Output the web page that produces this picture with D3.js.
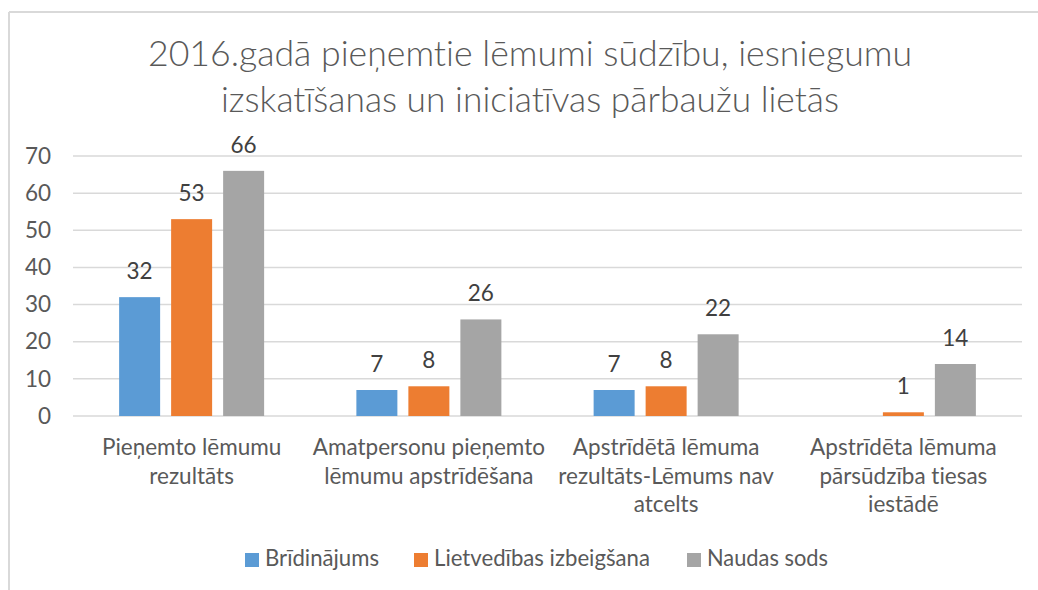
<!DOCTYPE html>
<html>
<head>
<meta charset="utf-8">
<script src="https://cdn.jsdelivr.net/npm/d3@7"></script>
<style>
  html, body { margin: 0; padding: 0; background: #fff; }
  svg { display: block; font-family: Lato, "Open Sans", sans-serif; font-variant-ligatures: none; }
</style>
</head>
<body>
<svg id="chart" width="1038" height="590"></svg>
<script>
// ---- data ----
const titleLines = ["2016.gadā pieņemtie lēmumi sūdzību, iesniegumu", "izskatīšanas un iniciatīvas pārbaužu lietās"];
const categories = [
  "Pieņemto lēmumu rezultāts",
  "Amatpersonu pieņemto lēmumu apstrīdēšana",
  "Apstrīdētā lēmuma rezultāts-Lēmums nav atcelts",
  "Apstrīdēta lēmuma pārsūdzība tiesas iestādē"
];
const categoryLabelLines = [
  ["Pieņemto lēmumu", "rezultāts"],
  ["Amatpersonu pieņemto", "lēmumu apstrīdēšana"],
  ["Apstrīdētā lēmuma", "rezultāts-Lēmums nav", "atcelts"],
  ["Apstrīdēta lēmuma", "pārsūdzība tiesas", "iestādē"]
];
const seriesNames = ["Brīdinājums", "Lietvedības izbeigšana", "Naudas sods"];
const bridinajums = [32, 7, 7, null];
const lietvedibas = [53, 8, 8, 1];
const naudasSods = [66, 26, 22, 14];
const seriesColors = ["#5B9BD5", "#ED7D31", "#A5A5A5"];
const yTicks = [0, 10, 20, 30, 40, 50, 60, 70];

const seriesValues = [bridinajums, lietvedibas, naudasSods];

// ---- layout ----
const svg = d3.select("#chart");
const W = 1038, H = 590;
const plot = { left: 73, right: 1022, top: 156, bottom: 416 };
const textColor = "#595959";
const labelColor = "#404040";
const gridColor = "#D9D9D9";
const fs = 22.5;

// border (top & left edges of chart frame)
svg.append("line").attr("x1", 9).attr("x2", W).attr("y1", 12).attr("y2", 12)
  .attr("stroke", gridColor).attr("stroke-width", 2);
svg.append("line").attr("x1", 9).attr("x2", 9).attr("y1", 12).attr("y2", H)
  .attr("stroke", gridColor).attr("stroke-width", 2);

// title
const titleWidths = [764, 618];
svg.append("g").selectAll("text").data(titleLines).join("text")
  .attr("x", 530)
  .attr("y", (d, i) => 66 + i * 46)
  .attr("text-anchor", "middle")
  .attr("fill", textColor)
  .attr("font-size", 35)
  .attr("font-weight", 300)
  .attr("textLength", (d, i) => titleWidths[i])
  .attr("lengthAdjust", "spacingAndGlyphs")
  .text(d => d);

// scales
const y = d3.scaleLinear().domain([0, 70]).range([plot.bottom, plot.top]);
const x0 = d3.scaleBand().domain(categories).range([plot.left, plot.right]).paddingInner(0).paddingOuter(0);
const x1 = d3.scaleBand().domain(seriesNames).range([-72.5, 72.5]).paddingInner(11 / 52).paddingOuter(0);

// y axis labels
const yAxis = d3.axisLeft(y).tickValues(yTicks).tickSize(0).tickPadding(22);
const yg = svg.append("g").attr("transform", `translate(${plot.left},0)`).call(yAxis);
yg.select(".domain").remove();
yg.selectAll("text").attr("fill", textColor).attr("font-size", fs).attr("font-family", "Lato, 'Open Sans', sans-serif");

// grid
svg.append("g").selectAll("line").data(yTicks).join("line")
  .attr("x1", plot.left).attr("x2", plot.right)
  .attr("y1", d => y(d)).attr("y2", d => y(d))
  .attr("stroke", gridColor).attr("stroke-width", 1.5);

// bars
const barData = [];
categories.forEach((c, ci) => {
  seriesNames.forEach((s, si) => {
    barData.push({ cat: c, ser: s, si, v: seriesValues[si][ci] });
  });
});
const valid = barData.filter(d => d.v !== null);

svg.append("g").selectAll("rect").data(valid).join("rect")
  .attr("x", d => x0(d.cat) + x0.bandwidth() / 2 + x1(d.ser))
  .attr("width", x1.bandwidth())
  .attr("y", d => y(d.v))
  .attr("height", d => y(0) - y(d.v))
  .attr("fill", d => seriesColors[d.si]);

// data labels
svg.append("g").selectAll("text").data(valid).join("text")
  .attr("x", d => x0(d.cat) + x0.bandwidth() / 2 + x1(d.ser) + x1.bandwidth() / 2)
  .attr("y", d => y(d.v) - 18)
  .attr("text-anchor", "middle")
  .attr("fill", labelColor)
  .attr("font-size", fs)
  .text(d => d.v);

// x category labels
const xg = svg.append("g");
categories.forEach((c, ci) => {
  const cx = x0(c) + x0.bandwidth() / 2;
  const t = xg.append("text")
    .attr("x", cx)
    .attr("y", 455)
    .attr("text-anchor", "middle")
    .attr("fill", textColor)
    .attr("font-size", fs);
  categoryLabelLines[ci].forEach((ln, li) => {
    t.append("tspan").attr("x", cx).attr("dy", li === 0 ? 0 : 28.5).text(ln);
  });
});

// legend
const legendX = [245, 414, 687];
const legendTextW = [114, 216, 121];
const lg = svg.append("g");
seriesNames.forEach((s, i) => {
  lg.append("rect").attr("x", legendX[i]).attr("y", 553).attr("width", 14).attr("height", 14).attr("fill", seriesColors[i]);
  lg.append("text").attr("x", legendX[i] + 20).attr("y", 566).attr("fill", textColor).attr("font-size", fs)
    .attr("textLength", legendTextW[i]).attr("lengthAdjust", "spacingAndGlyphs").text(s);
});
</script>
</body>
</html>
